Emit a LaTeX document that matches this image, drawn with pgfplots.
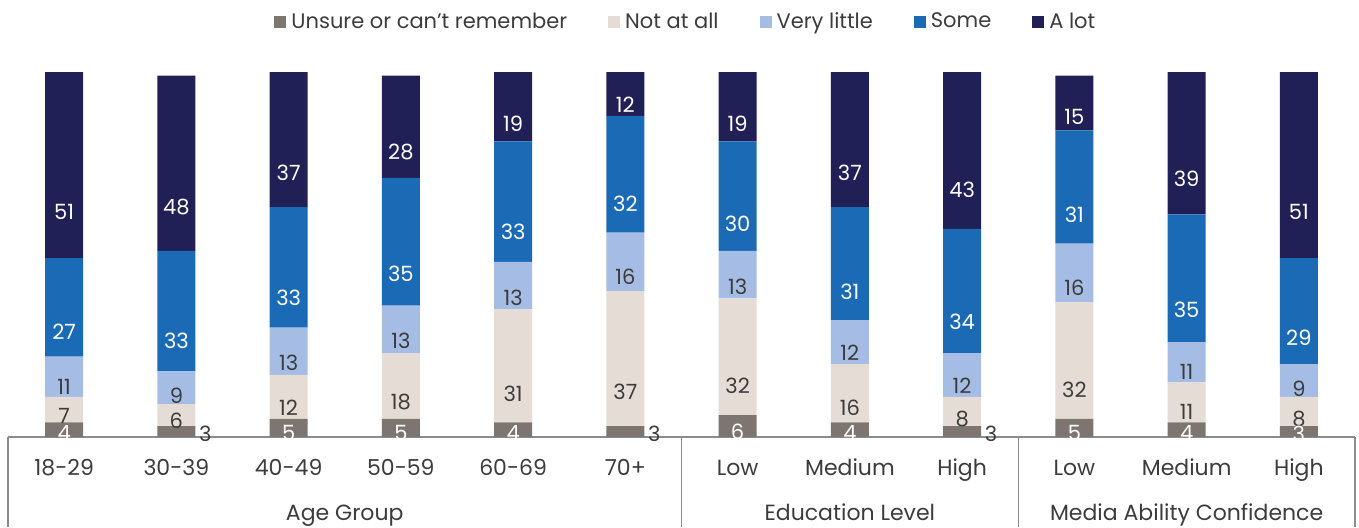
\documentclass[border=0pt]{standalone}
\usepackage{pgfplots}
\pgfplotsset{compat=1.18}
\usepackage{pgfplotstable}
\usepackage{fontspec}
\setmainfont{Poppins}
\definecolor{cU}{HTML}{7D7670}
\definecolor{cN}{HTML}{E6DCD6}
\definecolor{cV}{HTML}{A5BDE5}
\definecolor{cS}{HTML}{1B6AB5}
\definecolor{cA}{HTML}{201F56}
\definecolor{txt}{HTML}{3C3C3C}
\definecolor{rule}{HTML}{8C8C8C}
\pgfplotstableread{
x u n v s a
0 4 7 11 27 51
1 3 6 9 33 48
2 5 12 13 33 37
3 5 18 13 35 28
4 4 31 13 33 19
5 3 37 16 32 12
6 6 32 13 30 19
7 4 16 12 31 37
8 3 8 12 34 43
9 5 32 16 31 15
10 4 11 11 35 39
11 3 8 9 29 51
}\data
\begin{document}
\begin{tikzpicture}
\begin{axis}[
  at={(0,0)}, anchor=south west,
  scale only axis, width=673.5pt, height=182.5pt,
  ybar stacked, bar width=19pt,
  xmin=-0.5, xmax=11.5, ymin=0, ymax=100,
  axis line style={draw=none},
  ytick=\empty,
  xtick={0,...,11},
  xticklabels={18-29,30-39,40-49,50-59,60-69,70+,Low,Medium,High,Low,Medium,High},
  major tick length=0pt,
  xticklabel style={anchor=base, yshift=-19pt, font=\fontsize{11}{13}\selectfont, text=txt},
  clip=false,
  /pgf/number format/assume math mode=true,
  legend columns=5,
  legend style={at={(0.504,1.137)}, anchor=center, draw=none, fill=none,
    font=\fontsize{10.5}{12}\selectfont, text=txt,
    /tikz/every even column/.append style={column sep=18.5pt},
    /tikz/every odd column/.append style={column sep=0.5pt}},
  legend image code/.code={\fill[#1] (0pt,-3pt) rectangle (6pt,3pt);},
  visualization depends on=rawy\as\rawy,
  visualization depends on=rawx\as\rawx,
  nodes near coords={\pgfmathprintnumber[assume math mode=true]{\rawy}},
  every node near coord/.append style={anchor=center, inner sep=0pt,
    font=\fontsize{10.5}{12}\selectfont, yshift={-0.45625pt*\rawy}},
]
\addplot[fill=cU, draw=none,
  every node near coord/.append style={
    /utils/exec={\pgfmathparse{(\rawx==1)||(\rawx==5)||(\rawx==8)}%
      \ifdim\pgfmathresult pt>0.5pt \gdef\ucol{txt}\gdef\udx{1}\else\gdef\ucol{white}\gdef\udx{0}\fi},
    text=\ucol, xshift={14.5pt*\udx}}]
  table[x=x, y=u]{\data};
\addlegendentry{Unsure or can't remember}
\addplot[fill=cN, draw=none,
  every node near coord/.append style={text=txt}]
  table[x=x, y=n]{\data};
\addlegendentry{Not at all}
\addplot[fill=cV, draw=none,
  every node near coord/.append style={text=txt}]
  table[x=x, y=v]{\data};
\addlegendentry{Very little}
\addplot[fill=cS, draw=none,
  every node near coord/.append style={text=white}]
  table[x=x, y=s]{\data};
\addlegendentry{Some}
\addplot[fill=cA, draw=none,
  every node near coord/.append style={text=white}]
  table[x=x, y=a]{\data};
\addlegendentry{A lot}
\draw[rule, line width=0.6pt] (axis cs:-0.5,0) -- (axis cs:11.5,0);
\draw[rule, line width=0.6pt] (axis cs:-0.5,0) -- ++(0pt,-45pt);
\draw[rule, line width=0.6pt] (axis cs:5.5,0) -- ++(0pt,-45pt);
\draw[rule, line width=0.6pt] (axis cs:8.5,0) -- ++(0pt,-45pt);
\draw[rule, line width=0.6pt] (axis cs:11.5,0) -- ++(0pt,-45pt);
\node[anchor=base, font=\fontsize{11}{13}\selectfont, text=txt, yshift=-41.5pt] at (axis cs:2.5,0) {Age Group};
\node[anchor=base, font=\fontsize{11}{13}\selectfont, text=txt, yshift=-41.5pt] at (axis cs:7,0) {Education Level};
\node[anchor=base, font=\fontsize{11}{13}\selectfont, text=txt, yshift=-41.5pt] at (axis cs:10,0) {Media Ability Confidence};
\end{axis}
\pgfresetboundingbox
\path[use as bounding box] (-4pt,-45pt) rectangle (675.5pt,218.5pt);
\end{tikzpicture}
\end{document}
